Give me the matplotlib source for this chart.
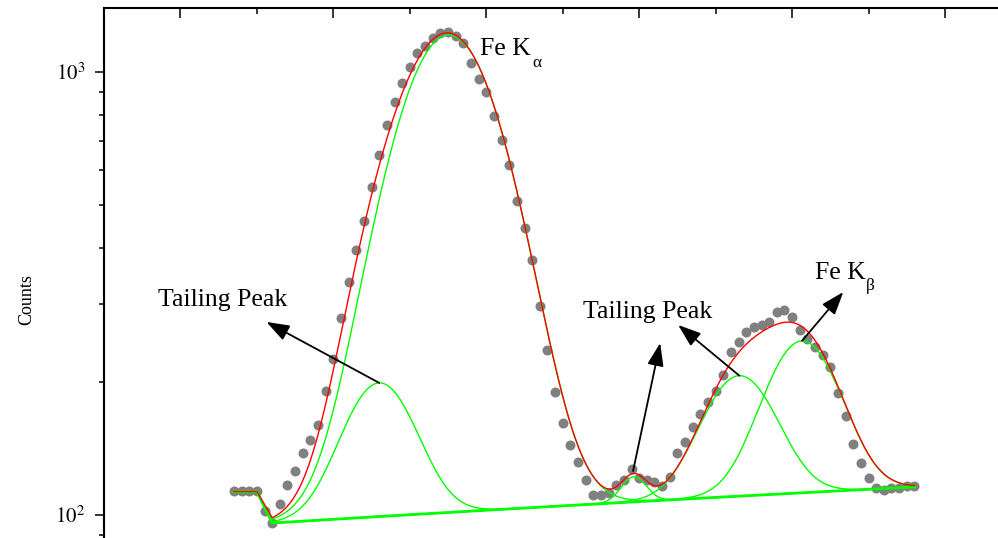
import numpy as np
import matplotlib
matplotlib.use("Agg")
import matplotlib.pyplot as plt
from matplotlib.ticker import LogLocator, NullFormatter, FixedLocator, MultipleLocator

plt.rcParams['font.family'] = ['Liberation Serif', 'DejaVu Serif']
plt.rcParams['mathtext.fontset'] = 'stix'

# ---- measured spectrum (channel, counts) ----
channel = list(range(7, 97))
counts = [113, 113, 113, 113, 102, 96, 106, 117, 126, 138,
          148, 160, 191, 225, 278, 336, 396, 461, 550, 650,
          759, 858, 944, 1026, 1104, 1145, 1194, 1225, 1231, 1206,
          1163, 1048, 964, 901, 796, 702, 617, 512, 444, 376,
          296, 236, 190, 161, 144, 132, 120, 111, 111, 112,
          117, 120, 127, 121, 120, 119, 116, 122, 138, 146,
          158, 169, 180, 191, 207, 233, 246, 259, 266, 268,
          273, 287, 290, 280, 261, 250, 239, 230, 216, 189,
          167, 145, 131, 121, 115, 114, 115, 115, 116, 116]

# ---- fit components (Gaussian parameters) ----
comp_names = ['Fe Ka', 'Ka tail', 'small tail', 'Kb tail', 'Fe Kb']
comp_center = [35.1, 26.0, 59.3, 73.1, 81.3]
comp_amp = [1112.0, 99.5, 15.0, 96.0, 135.0]
comp_sigma = [6.5, 4.45, 1.6, 4.55, 4.6]
baseline_x = [12.0, 96.0]
baseline_y = [95.9, 115.7]
head_x = [7, 8, 9, 10]          # unfitted leading channels
head_y = [113, 113, 113, 113]

fig = plt.figure(figsize=(9.98, 5.38), dpi=100)
ax = fig.add_axes([104 / 998, -0.037, 0.9193, 1.0221])

xf = np.linspace(baseline_x[0], baseline_x[1], 800)
base = np.interp(xf, baseline_x, baseline_y)
comps = [a * np.exp(-(xf - c) ** 2 / (2 * s ** 2))
         for c, a, s in zip(comp_center, comp_amp, comp_sigma)]
total = base + np.sum(comps, axis=0)

def with_head(y):
    return np.concatenate([head_x, xf]), np.concatenate([head_y, y])

ax.plot(channel, counts, 'o', color='#808080', ms=7.2, mec='none', zorder=2)
for comp in comps:
    ax.plot(*with_head(base + comp), color='#00ff00', lw=1.0, zorder=3)
ax.plot(*with_head(base), color='#00ff00', lw=2.0, zorder=3)
ax.plot(*with_head(total), color='#ff0000', lw=1.0, zorder=4)

ax.set_yscale('log')
ax.set_ylim(80, 1395)
ax.set_xlim(-10, 110)

for side in ['right', 'bottom']:
    ax.spines[side].set_visible(False)
for side in ['left', 'top']:
    ax.spines[side].set_linewidth(1.5)

ax.yaxis.set_major_locator(FixedLocator([100, 1000]))
ax.set_yticklabels([r'$10^{2}$', r'$10^{3}$'])
ax.yaxis.set_minor_locator(LogLocator(base=10, subs=np.arange(2, 10)))
ax.yaxis.set_minor_formatter(NullFormatter())
ax.tick_params(axis='y', which='major', direction='out', length=6.5, width=1.1,
               labelsize=15, pad=7)
ax.tick_params(axis='y', which='minor', direction='out', length=3.6, width=1.1)

ax.xaxis.set_ticks_position('top')
ax.xaxis.set_major_locator(MultipleLocator(20))
ax.xaxis.set_minor_locator(MultipleLocator(10))
ax.tick_params(axis='x', which='major', direction='in', length=7.5, width=1.1,
               labeltop=False, labelbottom=False)
ax.tick_params(axis='x', which='minor', direction='in', length=4, width=1.1)

fig.text(27 / 998, 1 - 300 / 538, 'Counts', rotation=90, ha='center', va='center',
         fontsize=13)

fs = 18.5
ax.text(39.2, 1092, 'Fe K', fontsize=fs, ha='left', va='baseline')
ax.text(46.0, 1026, 'α', fontsize=12.5, ha='left', va='baseline')
ax.text(83.0, 341, 'Fe K', fontsize=fs, ha='left', va='baseline')
ax.text(89.7, 322, 'β', fontsize=12.5, ha='left', va='baseline')
ax.text(-3.0, 296, 'Tailing Peak', fontsize=fs, ha='left', va='baseline')
ax.text(52.7, 278, 'Tailing Peak', fontsize=fs, ha='left', va='baseline')

def peak_top(k):
    c = comp_center[k]
    return c, comp_amp[k] + np.interp(c, baseline_x, baseline_y)

arrow_heads = [(11.24, 272.8), (62.75, 244.5), (65.1, 268.5), (86.7, 318.7)]
arrow_tails = [peak_top(1), (59.2, 125.7), peak_top(3), peak_top(4)]
for tail, head in zip(arrow_tails, arrow_heads):
    ax.annotate('', xy=head, xytext=tail,
                arrowprops=dict(arrowstyle='-|>,head_length=0.7,head_width=0.25',
                                mutation_scale=20, lw=1.3, color='black',
                                shrinkA=0, shrinkB=0), zorder=5)

fig.savefig('out.png', dpi=100)
